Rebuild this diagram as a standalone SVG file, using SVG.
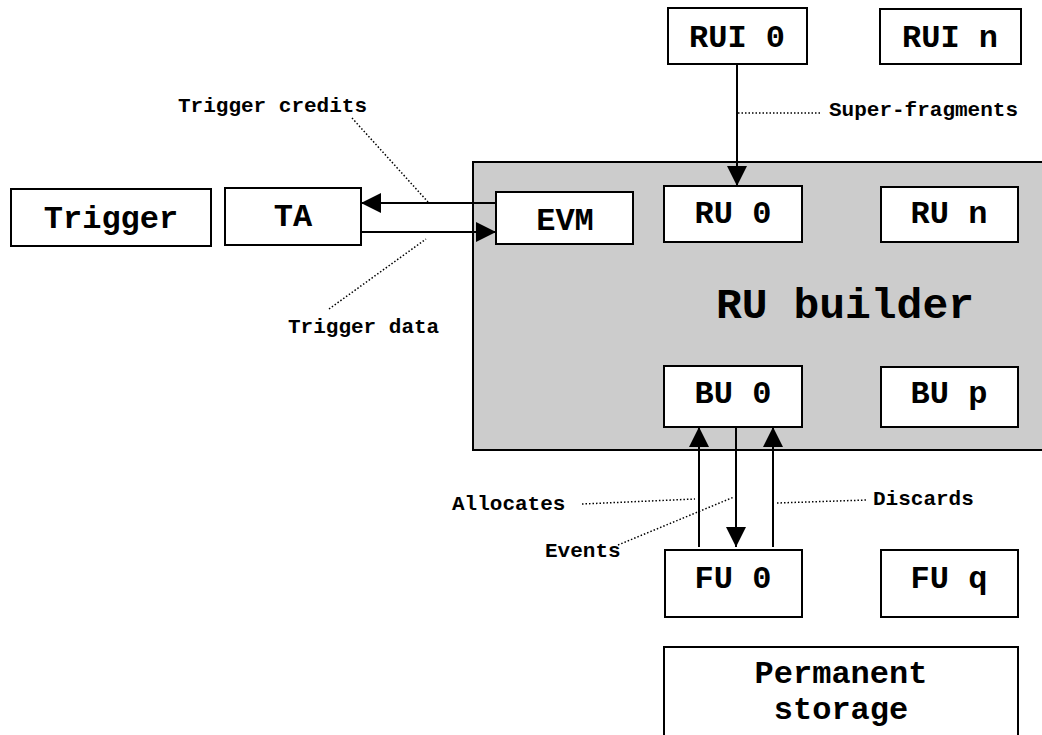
<svg xmlns="http://www.w3.org/2000/svg" width="1042" height="735" viewBox="0 0 1042 735">
  <style>
    .box { fill: #ffffff; stroke: #000000; stroke-width: 2; }
    .group { fill: #cccccc; stroke: #000000; stroke-width: 2; }
    .lbl { font-family: "Liberation Mono", "Courier New", monospace; font-weight: bold; font-size: 32px; fill: #000000; text-anchor: middle; }
    .title { font-family: "Liberation Mono", "Courier New", monospace; font-weight: bold; font-size: 43px; fill: #000000; text-anchor: middle; }
    .note { font-family: "Liberation Mono", "Courier New", monospace; font-weight: bold; font-size: 21px; fill: #000000; }
    .flow { fill: none; stroke: #000000; stroke-width: 2; marker-end: url(#head); }
    .lead { fill: none; stroke: #000000; stroke-width: 1.5; stroke-dasharray: 1.5 2; }
  </style>
  <defs>
    <marker id="head" markerUnits="userSpaceOnUse" markerWidth="20" markerHeight="20" refX="20" refY="10" orient="auto">
      <path d="M0,0 L20,10 L0,20 z" fill="#000000"/>
    </marker>
  </defs>

  <rect width="1042" height="735" fill="#ffffff"/>

  <!-- RU builder container -->
  <g id="ru-builder">
    <rect class="group" x="473" y="162" width="575" height="288"/>
    <text class="title" x="845" y="318">RU builder</text>
  </g>

  <g id="trigger">
    <rect class="box" x="11" y="189" width="200" height="57"/>
    <text class="lbl" x="111" y="228">Trigger</text>
  </g>
  <g id="ta">
    <rect class="box" x="225" y="188" width="136" height="57"/>
    <text class="lbl" x="293" y="226">TA</text>
  </g>
  <g id="evm">
    <rect class="box" x="496" y="192" width="137" height="52"/>
    <text class="lbl" x="565" y="230">EVM</text>
  </g>
  <g id="rui-0">
    <rect class="box" x="668" y="8" width="139" height="56"/>
    <text class="lbl" x="737" y="47">RUI 0</text>
  </g>
  <g id="rui-n">
    <rect class="box" x="880" y="9" width="141" height="55"/>
    <text class="lbl" x="950" y="47">RUI n</text>
  </g>
  <g id="ru-0">
    <rect class="box" x="664" y="186" width="138" height="56"/>
    <text class="lbl" x="733" y="223">RU 0</text>
  </g>
  <g id="ru-n">
    <rect class="box" x="881" y="187" width="137" height="55"/>
    <text class="lbl" x="949" y="223">RU n</text>
  </g>
  <g id="bu-0">
    <rect class="box" x="664" y="366" width="138" height="61"/>
    <text class="lbl" x="733" y="403">BU 0</text>
  </g>
  <g id="bu-p">
    <rect class="box" x="881" y="367" width="137" height="60"/>
    <text class="lbl" x="949" y="403">BU p</text>
  </g>
  <g id="fu-0">
    <rect class="box" x="665" y="550" width="137" height="67"/>
    <text class="lbl" x="733" y="588">FU 0</text>
  </g>
  <g id="fu-q">
    <rect class="box" x="881" y="550" width="137" height="67"/>
    <text class="lbl" x="949" y="588">FU q</text>
  </g>
  <g id="storage">
    <rect class="box" x="664" y="647" width="354" height="100"/>
    <text class="lbl" x="841" y="683">Permanent</text>
    <text class="lbl" x="841" y="719">storage</text>
  </g>

  <!-- data flows -->
  <g id="connectors">
    <line class="flow" x1="496" y1="203" x2="361" y2="203"/>
    <line class="flow" x1="361" y1="232" x2="496" y2="232"/>
    <line class="flow" x1="737" y1="64" x2="737" y2="186"/>
    <line class="flow" x1="699" y1="547" x2="699" y2="427"/>
    <line class="flow" x1="736" y1="427" x2="736" y2="547"/>
    <line class="flow" x1="773" y1="547" x2="773" y2="427"/>
  </g>

  <!-- callout labels with dotted leaders -->
  <g id="callouts">
    <line class="lead" x1="352" y1="118" x2="428" y2="202"/>
    <text class="note" x="178" y="112">Trigger credits</text>
    <line class="lead" x1="329" y1="309" x2="426" y2="239"/>
    <text class="note" x="288" y="333">Trigger data</text>
    <line class="lead" x1="738" y1="113" x2="822" y2="113"/>
    <text class="note" x="829" y="116">Super-fragments</text>
    <line class="lead" x1="582" y1="504" x2="695" y2="499"/>
    <text class="note" x="452" y="510">Allocates</text>
    <line class="lead" x1="618" y1="545" x2="734" y2="497"/>
    <text class="note" x="545" y="557">Events</text>
    <line class="lead" x1="777" y1="503" x2="867" y2="500"/>
    <text class="note" x="873" y="505">Discards</text>
  </g>
</svg>
